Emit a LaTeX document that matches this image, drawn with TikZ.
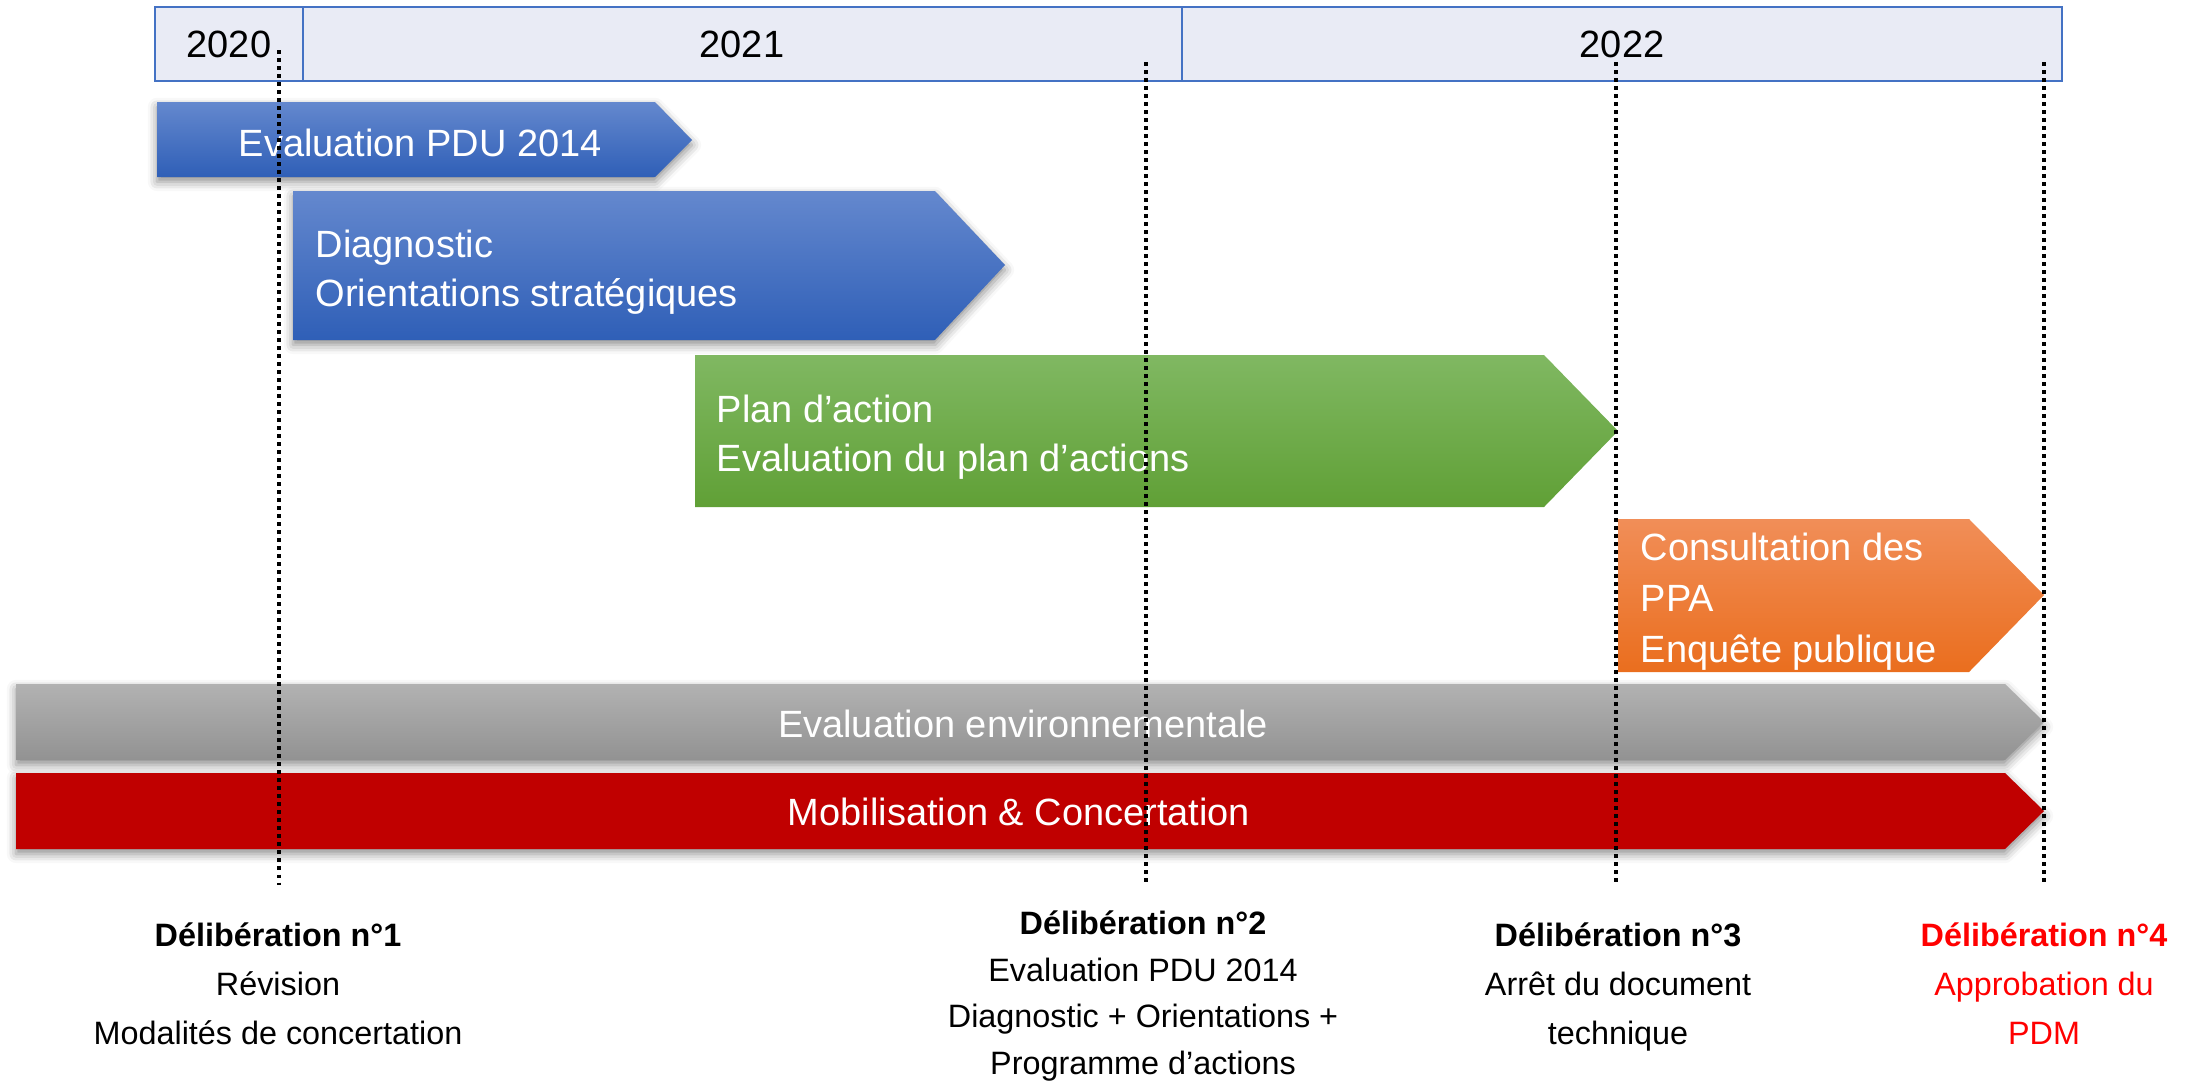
\documentclass[tikz,border=0pt]{standalone}
\usepackage{fontspec}
\setmainfont{Liberation Sans}
\usetikzlibrary{shadows.blur}

\definecolor{hdrfill}{RGB}{233,235,245}
\definecolor{hdrline}{RGB}{68,114,196}
\definecolor{blueTop}{RGB}{100,136,206}
\definecolor{blueBot}{RGB}{47,95,183}
\definecolor{greenTop}{RGB}{128,184,98}
\definecolor{greenBot}{RGB}{96,160,54}
\definecolor{orangeTop}{RGB}{241,142,88}
\definecolor{orangeMid}{RGB}{244,128,48}
\definecolor{orangeBot}{RGB}{234,110,30}
\definecolor{greyTop}{RGB}{178,178,178}
\definecolor{greyBot}{RGB}{146,146,146}
\definecolor{barRed}{RGB}{192,0,0}
\definecolor{noteRed}{RGB}{255,0,0}

% multi-line nodes below are placed by the baseline of their last line
\tikzset{
  softshadow/.style={blur shadow={shadow xshift=0pt, shadow yshift=-1.4pt,
      shadow blur radius=2.6pt, shadow opacity=45}},
  phasetext/.style={text=white, inner sep=0pt, anchor=base west, align=left,
      font=\fontsize{10.8pt}{13.9pt}\selectfont},
  bartext/.style={text=white, inner sep=0pt, anchor=base,
      font=\fontsize{10.8pt}{13pt}\selectfont},
  yeartext/.style={inner sep=0pt, font=\fontsize{10.8pt}{13pt}\selectfont},
  milestone/.style={draw=black, line width=0.036cm, dash pattern=on 0.035cm off 0.045cm},
  decision/.style={inner sep=0pt, anchor=base, align=center,
      font=\fontsize{9.2pt}{13.8pt}\selectfont},
}

\begin{document}
\begin{tikzpicture}[x=0.01cm, y=-0.01cm]
\useasboundingbox (0,0) rectangle (2188,1087);

% year band
\draw[hdrline, fill=hdrfill, line width=0.025cm] (155,7) rectangle (2062,81);
\draw[hdrline, line width=0.02cm] (303,7) -- (303,81) (1182,7) -- (1182,81);
\node[yeartext] (y2020) at (229,44) {2020};
\node[yeartext] (y2021) at (742,44) {2021};
\node[yeartext] (y2022) at (1622,44) {2022};

% phases
\path[softshadow, top color=blueTop, bottom color=blueBot]
  (157,102) -- (655,102) -- (692,140) -- (655,177) -- (157,177) -- cycle;
\node[phasetext] (evalpdu) at (238,156) {Evaluation PDU 2014};

\path[softshadow, top color=blueTop, bottom color=blueBot]
  (293,191) -- (935,191) -- (1005,265) -- (935,340) -- (293,340) -- cycle;
\node[phasetext] (diag) at (315,306) {Diagnostic\\Orientations stratégiques};

\path[top color=greenTop, bottom color=greenBot]
  (695,355) -- (1544,355) -- (1618,431) -- (1544,507) -- (695,507) -- cycle;
\node[phasetext] (plan) at (716,471) {Plan d’action\\Evaluation du plan d’actions};

\path[top color=orangeTop, middle color=orangeMid, bottom color=orangeBot]
  (1618,519) -- (1969,519) -- (2044,595) -- (1969,672) -- (1618,672) -- cycle;
\node[phasetext, font=\fontsize{10.8pt}{14.5pt}\selectfont] (ppa) at (1640,662)
  {Consultation des\\PPA\\Enquête publique};

% continuous tracks
\path[softshadow, top color=greyTop, bottom color=greyBot]
  (16,684) -- (2005,684) -- (2044,722) -- (2005,760) -- (16,760) -- cycle;
\node[bartext] (env) at (1023,737) {Evaluation environnementale};

\path[softshadow, fill=barRed]
  (16,773) -- (2005,773) -- (2044,811) -- (2005,849) -- (16,849) -- cycle;
\node[bartext] (mob) at (1019,825) {Mobilisation \& Concertation};

% milestones
\coordinate (m1top) at (279,50);   \coordinate (m1bot) at (279,885);
\coordinate (m2top) at (1146,62);  \coordinate (m2bot) at (1146,885);
\coordinate (m3top) at (1616,62);  \coordinate (m3bot) at (1616,885);
\coordinate (m4top) at (2044,62);  \coordinate (m4bot) at (2044,885);
\draw[milestone] (m1top) -- (m1bot);
\draw[milestone] (m2top) -- (m2bot);
\draw[milestone] (m3top) -- (m3bot);
\draw[milestone] (m4top) -- (m4bot);

% decisions
\node[decision] (d1) at (278,1044)
  {\textbf{Délibération n°1}\\Révision\\Modalités de concertation};
\node[decision, font=\fontsize{9.2pt}{13.2pt}\selectfont] (d2) at (1143,1074)
  {\textbf{Délibération n°2}\\Evaluation PDU 2014\\Diagnostic + Orientations +\\Programme d’actions};
\node[decision] (d3) at (1618,1044)
  {\textbf{Délibération n°3}\\Arrêt du document\\technique};
\node[decision, text=noteRed] (d4) at (2044,1044)
  {\textbf{Délibération n°4}\\Approbation du\\PDM};
\end{tikzpicture}
\end{document}
